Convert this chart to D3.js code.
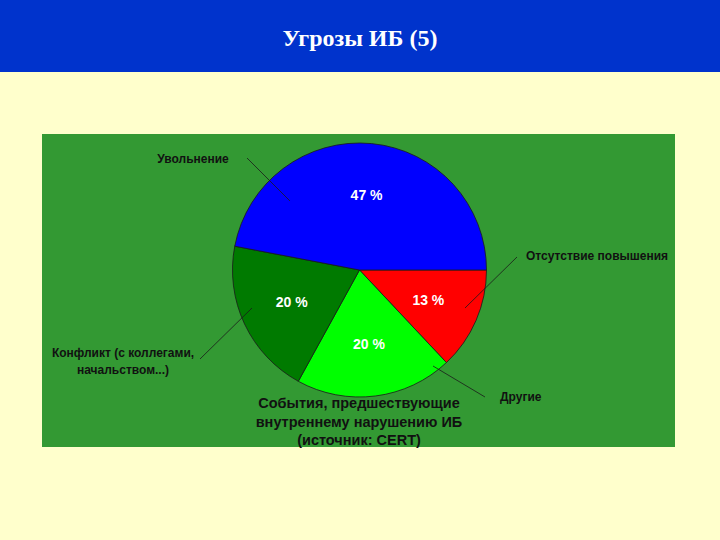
<!DOCTYPE html>
<html><head><meta charset="utf-8">
<script src="https://cdn.jsdelivr.net/npm/d3@7"></script>
<style>html,body{margin:0;padding:0;background:#FFFFCC;}</style>
</head><body>
<script>
// Data (slice order clockwise from 3 o'clock)
const categories = ["Отсутствие повышения", "Другие", "Конфликт (с коллегами, начальством...)", "Увольнение"];
const values = [13, 20, 20, 47];
const valueLabels = ["13 %", "20 %", "20 %", "47 %"];
const colors = ["#FF0000", "#00FF00", "#007A00", "#0000FF"];
const title = "Угрозы ИБ (5)";
const centerTitle = ["События, предшествующие", "внутреннему нарушению ИБ", "(источник: CERT)"];

const W = 720, H = 540;
const svg = d3.select("body").append("svg").attr("width", W).attr("height", H);
svg.append("rect").attr("width", W).attr("height", H).attr("fill", "#FFFFCC");
svg.append("rect").attr("width", W).attr("height", 72).attr("fill", "#0033CC");
svg.append("text").attr("x", 360).attr("y", 46).attr("text-anchor", "middle")
  .attr("font-family", "'Liberation Serif', 'Times New Roman', serif").attr("font-weight", "bold")
  .attr("font-size", 24).attr("fill", "#FFFFFF").text(title);

// green panel
svg.append("rect").attr("x", 42).attr("y", 134).attr("width", 633).attr("height", 313).attr("fill", "#339933");

const cx = 359.5, cy = 270, R = 127;
const g = svg.append("g").attr("transform", `translate(${cx},${cy})`);
const pie = d3.pie().sort(null).startAngle(Math.PI / 2).endAngle(Math.PI / 2 + 2 * Math.PI);
const arcs = pie(values);
const arc = d3.arc().innerRadius(0).outerRadius(R);
const labelArc = d3.arc().innerRadius(75).outerRadius(75);

g.selectAll("path.slice").data(arcs).enter().append("path")
  .attr("d", arc).attr("fill", (d, i) => colors[i])
  .attr("stroke", "#1a1a1a").attr("stroke-width", 0.8);

g.selectAll("text.val").data(arcs).enter().append("text")
  .attr("transform", d => `translate(${labelArc.centroid(d)})`)
  .attr("text-anchor", "middle").attr("dominant-baseline", "central")
  .attr("font-family", "Arial, 'Liberation Sans', sans-serif").attr("font-weight", "bold")
  .attr("font-size", 14).attr("fill", "#FFFFFF")
  .text((d, i) => valueLabels[i]);

// category labels with leader lines
const font = "Arial, 'Liberation Sans', sans-serif";
const lab = (lines, x, y, anchor) => {
  const t = svg.append("text").attr("text-anchor", anchor).attr("font-family", font)
    .attr("font-weight", "bold").attr("font-size", 12).attr("fill", "#111111");
  lines.forEach((l, i) => t.append("tspan").attr("x", x).attr("y", y + i * 17).text(l));
};
const line = (x1, y1, x2, y2) => svg.append("line").attr("x1", x1).attr("y1", y1).attr("x2", x2).attr("y2", y2)
  .attr("stroke", "#1a1a1a").attr("stroke-width", 0.8);

lab([categories[3]], 193, 163, "middle");
line(247, 158, 290, 201);
lab([categories[0]], 526, 260, "start");
line(517, 257, 465, 308);
lab(["Конфликт (с коллегами,", "начальством...)"], 123, 357, "middle");
line(200, 359, 252, 308);
lab([categories[1]], 500, 401, "start");
line(485, 397, 433, 366);

const ct = svg.append("text").attr("text-anchor", "middle").attr("font-family", font)
  .attr("font-weight", "bold").attr("font-size", 14.5).attr("fill", "#111111");
centerTitle.forEach((l, i) => ct.append("tspan").attr("x", 359).attr("y", 408 + i * 18.5).text(l));
</script>
</body></html>
